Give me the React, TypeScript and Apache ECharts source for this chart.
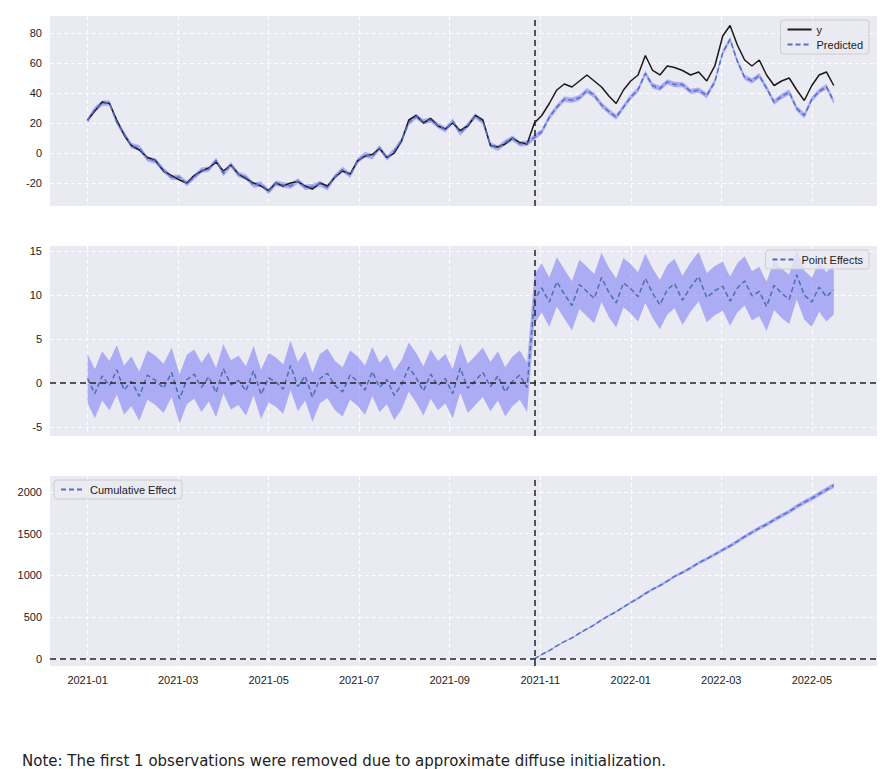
import { useRef, useEffect } from 'react';
import * as echarts from 'echarts';

// observed series, one value every 5 days from 2021-01-01
const observed = [
  22, 28, 34, 33, 22, 12, 5, 2, -3, -5,
  -12, -15, -18, -20, -15, -12, -10, -6, -12, -8,
  -14, -17, -20, -22, -25, -20, -22, -20, -19, -22,
  -24, -20, -22, -16, -12, -14, -5, -2, -1, 3,
  -3, 0, 8, 22, 25, 20, 23, 18, 16, 20,
  15, 18, 25, 22, 5, 4, 6, 10, 7, 6,
  20, 25, 33, 42, 46, 44, 48, 52, 48, 44,
  38, 33, 42, 48, 52, 65, 55, 52, 58, 57,
  55, 52, 54, 48, 58, 78, 85, 72, 62, 58,
  62, 52, 45, 48, 50, 42, 35, 45, 52, 54, 45,
];

const pointEffects = [
  0.5, -1.2, 0.8, -0.3, 1.5, -0.8, 0.2, -1.5, 0.9, 0.3,
  -0.6, 1.2, -1.8, 0.4, 1.0, -0.5, 0.7, -1.1, 1.6, -0.2,
  0.3, -0.9, 1.4, -1.3, 0.6, 0.1, -0.7, 2.0, -0.4, 0.8,
  -1.6, 0.5, 1.1, -0.3, -1.0, 0.9, 0.2, -0.8, 1.3, -0.5,
  0.4, -1.4, -0.2, 1.8, 0.6, -0.9, 1.0, -0.3, 0.5, -1.2,
  1.7, -0.6, 0.3, 1.2, -0.4, 0.8, -1.0, 0.2, 0.9, -0.5,
  9.5, 10.8, 9.2, 11.5, 10.1, 8.8, 11.2, 10.4, 9.6, 12.0,
  10.3, 9.1, 11.4, 10.7, 9.8, 11.9, 10.2, 8.9, 10.6, 11.3,
  9.4, 10.9, 12.1, 9.7, 10.5, 11.0, 9.3, 10.8, 11.6, 9.9,
  10.4, 8.7, 11.1, 10.2, 9.5, 12.3, 10.0, 9.2, 10.9, 9.8, 10.6,
];

const interventionIndex = 60;
const stepDays = 5;
const topTicks = [-20, 0, 20, 40, 60, 80];
const midTicks = [-5, 0, 5, 10, 15];
const botTicks = [0, 500, 1000, 1500, 2000];
const monthTicks = [0, 2, 4, 6, 8, 10, 12, 14, 16];

// x in months since 2021-01
const toMonth = (d: Date) => {
  const y = d.getUTCFullYear(), m = d.getUTCMonth();
  const dim = new Date(Date.UTC(y, m + 1, 0)).getUTCDate();
  return (y - 2021) * 12 + m + (d.getUTCDate() - 1) / dim;
};
const xs = observed.map((_, i) => toMonth(new Date(Date.UTC(2021, 0, 1 + i * stepDays))));
const predicted = observed.map((v, i) => v - pointEffects[i]);
const cumulative: number[] = [];
let acc = 0;
pointEffects.forEach((e, i) => {
  if (i > interventionIndex) acc += e * stepDays;
  cumulative.push(i < interventionIndex ? NaN : acc);
});
const xInt = xs[interventionIndex];

const BLUE = '#5470c6';
const BAND = 'rgba(110,110,245,0.5)';
const BG = '#eaeaf2';

// confidence band drawn as one polygon through the axis scales
const band = (vals: number[], w: (v: number) => number, idx: number) => ({
  type: 'custom', xAxisIndex: idx, yAxisIndex: idx, silent: true, z: 1,
  data: [[0, 0]],
  renderItem: (_p: any, api: any) => {
    const upper: number[][] = [];
    const lower: number[][] = [];
    vals.forEach((v, i) => {
      if (isNaN(v)) return;
      upper.push(api.coord([xs[i], v + w(v)]));
      lower.unshift(api.coord([xs[i], v - w(v)]));
    });
    return { type: 'polygon', shape: { points: [...upper, ...lower] }, style: { fill: BAND } };
  },
});

const vLine = {
  silent: true, symbol: 'none', label: { show: false },
  lineStyle: { color: '#222', type: [6, 4], width: 1.5 },
};

const App: React.FC = () => {
  const chartRef = useRef<HTMLDivElement>(null);

  useEffect(() => {
    if (!chartRef.current) return;
    const chart = echarts.init(chartRef.current, undefined, { renderer: 'svg' });
    const grids = [
      { left: 42, top: 8, width: 836, height: 190 },
      { left: 42, top: 238, width: 836, height: 190 },
      { left: 42, top: 468, width: 836, height: 190 },
    ];
    const xAxis = grids.map((_, i) => ({
      type: 'value', gridIndex: i, min: -0.83, max: 17.44,
      axisLine: { show: false }, axisTick: { show: false, customValues: monthTicks },
      splitLine: { lineStyle: { color: '#fff', type: [4, 3] } },
      axisLabel: {
        show: i === 2, color: '#222', fontSize: 11, margin: 8, customValues: monthTicks,
        formatter: (v: number) => `${2021 + Math.floor(v / 12)}-${String((v % 12) + 1).padStart(2, '0')}`,
      },
    }));
    const yRange = [[-35.3, 91.3, topTicks], [-6.02, 15.57, midTicks], [-84, 2191, botTicks]] as const;
    const yAxis = yRange.map(([min, max, ticks], i) => ({
      type: 'value', gridIndex: i, min, max,
      axisLine: { show: false }, axisTick: { show: false, customValues: ticks },
      splitLine: { lineStyle: { color: '#fff', type: [4, 3] } },
      axisLabel: { color: '#222', fontSize: 11, customValues: ticks, formatter: (v: number) => String(v) },
    }));
    const lineData = (vals: number[]) => vals.map((v, i) => [xs[i], isNaN(v) ? null : v]);
    const legendBase = {
      orient: 'vertical', itemWidth: 24, itemHeight: 10, itemGap: 4,
      itemStyle: { opacity: 0 },
      backgroundColor: 'rgba(234,234,242,0.8)', borderColor: '#ccc', borderWidth: 1, borderRadius: 3,
      padding: [4, 6], textStyle: { fontSize: 11, color: '#222' },
    };
    chart.setOption({
      animation: false,
      backgroundColor: '#fff',
      grid: grids.map((g) => ({ ...g, backgroundColor: BG, show: true, borderWidth: 0 })),
      xAxis, yAxis,
      legend: [
        { ...legendBase, right: 8, top: 12, data: ['y', 'Predicted'] },
        { ...legendBase, right: 8, top: 242, data: ['Point Effects'] },
        { ...legendBase, left: 46, top: 472, data: ['Cumulative Effect'] },
      ],
      graphic: [{
        type: 'text', left: 14, top: 745,
        style: { text: 'Note: The first 1 observations were removed due to approximate diffuse initialization.', fontSize: 15, fill: '#222', fontFamily: 'DejaVu Sans' },
      }],
      series: [
        band(predicted, () => 1.8, 0),
        {
          name: 'y', type: 'line', xAxisIndex: 0, yAxisIndex: 0, symbol: 'none', z: 3,
          lineStyle: { color: '#1a1a1a', width: 1.5 }, itemStyle: { color: '#1a1a1a' }, data: lineData(observed),
          markLine: { ...vLine, data: [{ xAxis: xInt }] },
        },
        {
          name: 'Predicted', type: 'line', xAxisIndex: 0, yAxisIndex: 0, symbol: 'none', z: 3,
          lineStyle: { color: BLUE, width: 1.5, type: [5, 3] }, itemStyle: { color: BLUE }, data: lineData(predicted),
        },
        band(pointEffects, () => 2.8, 1),
        {
          name: 'Point Effects', type: 'line', xAxisIndex: 1, yAxisIndex: 1, symbol: 'none', z: 3,
          lineStyle: { color: '#4c6fb0', width: 1.5, type: [5, 3] }, itemStyle: { color: BLUE }, data: lineData(pointEffects),
          markLine: { ...vLine, data: [{ xAxis: xInt }, { yAxis: 0 }] },
        },
        band(cumulative, (c) => c * 0.012 + 5, 2),
        {
          name: 'Cumulative Effect', type: 'line', xAxisIndex: 2, yAxisIndex: 2, symbol: 'none', z: 3,
          lineStyle: { color: BLUE, width: 1.5, type: [5, 3] }, itemStyle: { color: BLUE }, data: lineData(cumulative),
          markLine: { ...vLine, data: [{ xAxis: xInt }, { yAxis: 0 }] },
        },
      ],
    });
    return () => chart.dispose();
  }, []);

  return <div ref={chartRef} style={{ width: 869, height: 761 }} />;
};

export default App;
